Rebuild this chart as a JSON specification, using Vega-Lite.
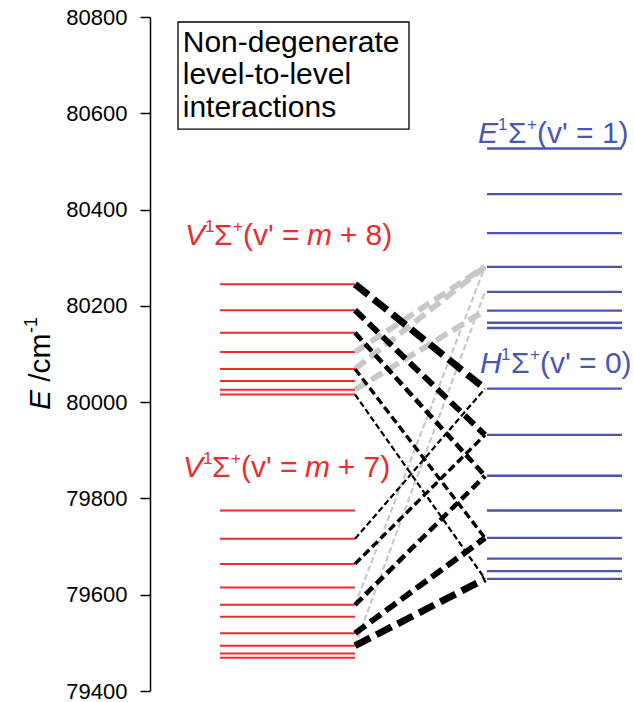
{
  "$schema": "https://vega.github.io/schema/vega-lite/v6.json",
  "width": 484,
  "height": 674,
  "autosize": "none",
  "padding": {"left": 150, "top": 17, "right": 0, "bottom": 11},
  "background": "white",
  "config": {"view": {"stroke": null}, "font": "Liberation Sans"},
  "data": {"values": [{}]},
  "datasets": {
    "levels": [
      {"state": "V", "v": "m+8", "E": 80245}, {"state": "V", "v": "m+8", "E": 80191},
      {"state": "V", "v": "m+8", "E": 80144}, {"state": "V", "v": "m+8", "E": 80104},
      {"state": "V", "v": "m+8", "E": 80069}, {"state": "V", "v": "m+8", "E": 80044},
      {"state": "V", "v": "m+8", "E": 80026}, {"state": "V", "v": "m+8", "E": 80016},
      {"state": "V", "v": "m+7", "E": 79775}, {"state": "V", "v": "m+7", "E": 79716},
      {"state": "V", "v": "m+7", "E": 79664}, {"state": "V", "v": "m+7", "E": 79615},
      {"state": "V", "v": "m+7", "E": 79579}, {"state": "V", "v": "m+7", "E": 79554},
      {"state": "V", "v": "m+7", "E": 79520}, {"state": "V", "v": "m+7", "E": 79494},
      {"state": "V", "v": "m+7", "E": 79478}, {"state": "V", "v": "m+7", "E": 79469},
      {"state": "E", "v": "1", "E": 80527}, {"state": "E", "v": "1", "E": 80432},
      {"state": "E", "v": "1", "E": 80351}, {"state": "E", "v": "1", "E": 80281},
      {"state": "E", "v": "1", "E": 80229}, {"state": "E", "v": "1", "E": 80190},
      {"state": "E", "v": "1", "E": 80165}, {"state": "E", "v": "1", "E": 80154},
      {"state": "H", "v": "0", "E": 80028}, {"state": "H", "v": "0", "E": 79932},
      {"state": "H", "v": "0", "E": 79847}, {"state": "H", "v": "0", "E": 79775},
      {"state": "H", "v": "0", "E": 79718}, {"state": "H", "v": "0", "E": 79675},
      {"state": "H", "v": "0", "E": 79649}, {"state": "H", "v": "0", "E": 79633}
    ],
    "links": [
      {"target": "E", "from": 80104, "to": 80281, "coupling": 4},
      {"target": "E", "from": 80069, "to": 80281, "coupling": 4},
      {"target": "E", "from": 80026, "to": 80190, "coupling": 4},
      {"target": "E", "from": 79579, "to": 80281, "coupling": 1},
      {"target": "E", "from": 79494, "to": 80229, "coupling": 1},
      {"target": "H", "from": 80245, "to": 80028, "coupling": 5},
      {"target": "H", "from": 80191, "to": 79932, "coupling": 4},
      {"target": "H", "from": 80144, "to": 79847, "coupling": 3},
      {"target": "H", "from": 80069, "to": 79718, "coupling": 2},
      {"target": "H", "from": 80016, "to": 79633, "coupling": 1},
      {"target": "H", "from": 79716, "to": 80028, "coupling": 1},
      {"target": "H", "from": 79664, "to": 79932, "coupling": 2},
      {"target": "H", "from": 79579, "to": 79847, "coupling": 3},
      {"target": "H", "from": 79520, "to": 79718, "coupling": 4},
      {"target": "H", "from": 79494, "to": 79633, "coupling": 5}
    ]
  },
  "layer": [
    {
      "data": {"name": "levels"},
      "transform": [{"filter": "datum.state === 'V'"}],
      "mark": {"type": "rule", "color": "#ef2b2d", "strokeWidth": 2},
      "encoding": {
        "x": {"datum": 14.46, "scale": {"domain": [0, 100]}, "axis": null},
        "x2": {"datum": 42.36},
        "y": {
          "field": "E", "type": "quantitative",
          "scale": {"domain": [79400, 80800], "nice": false, "zero": false},
          "axis": {
            "values": [79400, 79600, 79800, 80000, 80200, 80400, 80600, 80800],
            "format": "d", "title": null, "grid": false,
            "labelFont": "Liberation Sans", "labelFontSize": 22, "labelColor": "#000",
            "labelPadding": 13, "labelFlush": false, "labelOverlap": false,
            "tickColor": "#000", "tickSize": 10, "tickWidth": 1.5,
            "domainColor": "#000", "domainWidth": 1.5
          }
        }
      }
    },
    {
      "data": {"name": "levels"},
      "transform": [{"filter": "datum.state !== 'V'"}],
      "mark": {"type": "rule", "color": "#4b55b3", "strokeWidth": 2.4},
      "encoding": {
        "x": {"datum": 69.63, "scale": {"domain": [0, 100]}, "axis": null},
        "x2": {"datum": 97.52},
        "y": {"field": "E", "type": "quantitative", "scale": {"domain": [79400, 80800], "nice": false, "zero": false}}
      }
    },
    {
      "data": {"name": "links"},
      "transform": [{"filter": "datum.target === 'E'"}],
      "mark": {"type": "rule", "color": "#c8c8c8", "strokeCap": "butt"},
      "encoding": {
        "x": {"datum": 42.36, "scale": {"domain": [0, 100]}, "axis": null},
        "x2": {"datum": 69.21},
        "y": {"field": "from", "type": "quantitative", "scale": {"domain": [79400, 80800], "nice": false, "zero": false}},
        "y2": {"field": "to"},
        "strokeWidth": {"field": "coupling", "type": "quantitative", "scale": {"domain": [1, 5], "range": [2.2, 7]}, "legend": null},
        "strokeDash": {"field": "coupling", "type": "ordinal", "scale": {"domain": [1, 2, 3, 4, 5], "range": [[6, 3], [8, 4], [10, 5], [13, 6], [17, 7]]}, "legend": null}
      }
    },
    {
      "data": {"name": "links"},
      "transform": [{"filter": "datum.target === 'H'"}],
      "mark": {"type": "rule", "color": "#000000", "strokeCap": "butt"},
      "encoding": {
        "x": {"datum": 42.36, "scale": {"domain": [0, 100]}, "axis": null},
        "x2": {"datum": 69.21},
        "y": {"field": "from", "type": "quantitative", "scale": {"domain": [79400, 80800], "nice": false, "zero": false}},
        "y2": {"field": "to"},
        "strokeWidth": {"field": "coupling", "type": "quantitative", "scale": {"domain": [1, 5], "range": [2.2, 7]}, "legend": null},
        "strokeDash": {"field": "coupling", "type": "ordinal", "scale": {"domain": [1, 2, 3, 4, 5], "range": [[5, 3], [8, 4], [10, 5], [13, 6], [17, 7]]}, "legend": null}
      }
    },
    {
      "mark": {"type": "rect", "fill": "white", "stroke": "#000", "strokeWidth": 1.3},
      "encoding": {
        "x": {"datum": 5.79, "scale": {"domain": [0, 100]}, "axis": null},
        "x2": {"datum": 53.51},
        "y": {"datum": 80789.6, "scale": {"domain": [79400, 80800], "nice": false, "zero": false}},
        "y2": {"datum": 80567.3}
      }
    },
    {
      "mark": {"type": "text", "align": "left", "baseline": "alphabetic", "font": "Liberation Sans", "fontSize": 30, "lineHeight": 32.5, "color": "#000"},
      "encoding": {
        "x": {"datum": 6.76, "scale": {"domain": [0, 100]}, "axis": null},
        "y": {"datum": 80727.3, "scale": {"domain": [79400, 80800], "nice": false, "zero": false}},
        "text": {"value": ["Non-degenerate", "level-to-level", "interactions"]}
      }
    },
    {
      "mark": {"type": "text", "align": "left", "baseline": "alphabetic", "font": "Liberation Sans", "fontSize": 30, "fontStyle": "italic", "color": "#000"},
      "encoding": {
        "x": {"datum": -20.66, "scale": {"domain": [0, 100]}, "axis": null},
        "y": {"datum": 79983.6, "scale": {"domain": [79400, 80800], "nice": false, "zero": false}},
        "angle": {"value": 270},
        "text": {"value": "E"}
      }
    },
    {
      "mark": {"type": "text", "align": "left", "baseline": "alphabetic", "font": "Liberation Sans", "fontSize": 30, "color": "#000"},
      "encoding": {
        "x": {"datum": -20.66, "scale": {"domain": [0, 100]}, "axis": null},
        "y": {"datum": 80042.4, "scale": {"domain": [79400, 80800], "nice": false, "zero": false}},
        "angle": {"value": 270},
        "text": {"value": "/cm"}
      }
    },
    {
      "mark": {"type": "text", "align": "left", "baseline": "alphabetic", "font": "Liberation Sans", "fontSize": 18, "color": "#000"},
      "encoding": {
        "x": {"datum": -23.35, "scale": {"domain": [0, 100]}, "axis": null},
        "y": {"datum": 80143.6, "scale": {"domain": [79400, 80800], "nice": false, "zero": false}},
        "angle": {"value": 270},
        "text": {"value": "-1"}
      }
    },

    {"mark": {"type": "text", "align": "left", "baseline": "alphabetic", "fontSize": 30, "fontStyle": "italic", "color": "#ef2b2d"},
     "encoding": {"x": {"datum": 7.23, "scale": {"domain": [0, 100]}, "axis": null}, "y": {"datum": 80326.4, "scale": {"domain": [79400, 80800], "nice": false, "zero": false}}, "text": {"value": "V"}}},
    {"mark": {"type": "text", "align": "left", "baseline": "alphabetic", "fontSize": 17, "color": "#ef2b2d"},
     "encoding": {"x": {"datum": 11.36, "scale": {"domain": [0, 100]}, "axis": null}, "y": {"datum": 80353.4, "scale": {"domain": [79400, 80800], "nice": false, "zero": false}}, "text": {"value": "1"}}},
    {"mark": {"type": "text", "align": "left", "baseline": "alphabetic", "fontSize": 30, "color": "#ef2b2d"},
     "encoding": {"x": {"datum": 13.22, "scale": {"domain": [0, 100]}, "axis": null}, "y": {"datum": 80326.4, "scale": {"domain": [79400, 80800], "nice": false, "zero": false}}, "text": {"value": "Σ"}}},
    {"mark": {"type": "text", "align": "left", "baseline": "alphabetic", "fontSize": 17, "color": "#ef2b2d"},
     "encoding": {"x": {"datum": 17.15, "scale": {"domain": [0, 100]}, "axis": null}, "y": {"datum": 80353.4, "scale": {"domain": [79400, 80800], "nice": false, "zero": false}}, "text": {"value": "+"}}},
    {"mark": {"type": "text", "align": "left", "baseline": "alphabetic", "fontSize": 30, "color": "#ef2b2d"},
     "encoding": {"x": {"datum": 19.21, "scale": {"domain": [0, 100]}, "axis": null}, "y": {"datum": 80326.4, "scale": {"domain": [79400, 80800], "nice": false, "zero": false}}, "text": {"value": "(v' ="}}},
    {"mark": {"type": "text", "align": "left", "baseline": "alphabetic", "fontSize": 30, "fontStyle": "italic", "color": "#ef2b2d"},
     "encoding": {"x": {"datum": 32.44, "scale": {"domain": [0, 100]}, "axis": null}, "y": {"datum": 80326.4, "scale": {"domain": [79400, 80800], "nice": false, "zero": false}}, "text": {"value": "m"}}},
    {"mark": {"type": "text", "align": "left", "baseline": "alphabetic", "fontSize": 30, "color": "#ef2b2d"},
     "encoding": {"x": {"datum": 39.2, "scale": {"domain": [0, 100]}, "axis": null}, "y": {"datum": 80326.4, "scale": {"domain": [79400, 80800], "nice": false, "zero": false}}, "text": {"value": "+ 8)"}}},

    {"mark": {"type": "text", "align": "left", "baseline": "alphabetic", "fontSize": 30, "fontStyle": "italic", "color": "#ef2b2d"},
     "encoding": {"x": {"datum": 6.82, "scale": {"domain": [0, 100]}, "axis": null}, "y": {"datum": 79844.5, "scale": {"domain": [79400, 80800], "nice": false, "zero": false}}, "text": {"value": "V"}}},
    {"mark": {"type": "text", "align": "left", "baseline": "alphabetic", "fontSize": 17, "color": "#ef2b2d"},
     "encoding": {"x": {"datum": 10.95, "scale": {"domain": [0, 100]}, "axis": null}, "y": {"datum": 79871.5, "scale": {"domain": [79400, 80800], "nice": false, "zero": false}}, "text": {"value": "1"}}},
    {"mark": {"type": "text", "align": "left", "baseline": "alphabetic", "fontSize": 30, "color": "#ef2b2d"},
     "encoding": {"x": {"datum": 12.81, "scale": {"domain": [0, 100]}, "axis": null}, "y": {"datum": 79844.5, "scale": {"domain": [79400, 80800], "nice": false, "zero": false}}, "text": {"value": "Σ"}}},
    {"mark": {"type": "text", "align": "left", "baseline": "alphabetic", "fontSize": 17, "color": "#ef2b2d"},
     "encoding": {"x": {"datum": 16.74, "scale": {"domain": [0, 100]}, "axis": null}, "y": {"datum": 79871.5, "scale": {"domain": [79400, 80800], "nice": false, "zero": false}}, "text": {"value": "+"}}},
    {"mark": {"type": "text", "align": "left", "baseline": "alphabetic", "fontSize": 30, "color": "#ef2b2d"},
     "encoding": {"x": {"datum": 18.8, "scale": {"domain": [0, 100]}, "axis": null}, "y": {"datum": 79844.5, "scale": {"domain": [79400, 80800], "nice": false, "zero": false}}, "text": {"value": "(v' ="}}},
    {"mark": {"type": "text", "align": "left", "baseline": "alphabetic", "fontSize": 30, "fontStyle": "italic", "color": "#ef2b2d"},
     "encoding": {"x": {"datum": 32.03, "scale": {"domain": [0, 100]}, "axis": null}, "y": {"datum": 79844.5, "scale": {"domain": [79400, 80800], "nice": false, "zero": false}}, "text": {"value": "m"}}},
    {"mark": {"type": "text", "align": "left", "baseline": "alphabetic", "fontSize": 30, "color": "#ef2b2d"},
     "encoding": {"x": {"datum": 38.79, "scale": {"domain": [0, 100]}, "axis": null}, "y": {"datum": 79844.5, "scale": {"domain": [79400, 80800], "nice": false, "zero": false}}, "text": {"value": "+ 7)"}}},

    {"mark": {"type": "text", "align": "left", "baseline": "alphabetic", "fontSize": 30, "fontStyle": "italic", "color": "#4b55b3"},
     "encoding": {"x": {"datum": 67.77, "scale": {"domain": [0, 100]}, "axis": null}, "y": {"datum": 80538.3, "scale": {"domain": [79400, 80800], "nice": false, "zero": false}}, "text": {"value": "E"}}},
    {"mark": {"type": "text", "align": "left", "baseline": "alphabetic", "fontSize": 17, "color": "#4b55b3"},
     "encoding": {"x": {"datum": 71.9, "scale": {"domain": [0, 100]}, "axis": null}, "y": {"datum": 80565.3, "scale": {"domain": [79400, 80800], "nice": false, "zero": false}}, "text": {"value": "1"}}},
    {"mark": {"type": "text", "align": "left", "baseline": "alphabetic", "fontSize": 30, "color": "#4b55b3"},
     "encoding": {"x": {"datum": 73.97, "scale": {"domain": [0, 100]}, "axis": null}, "y": {"datum": 80538.3, "scale": {"domain": [79400, 80800], "nice": false, "zero": false}}, "text": {"value": "Σ"}}},
    {"mark": {"type": "text", "align": "left", "baseline": "alphabetic", "fontSize": 17, "color": "#4b55b3"},
     "encoding": {"x": {"datum": 77.89, "scale": {"domain": [0, 100]}, "axis": null}, "y": {"datum": 80565.3, "scale": {"domain": [79400, 80800], "nice": false, "zero": false}}, "text": {"value": "+"}}},
    {"mark": {"type": "text", "align": "left", "baseline": "alphabetic", "fontSize": 30, "color": "#4b55b3"},
     "encoding": {"x": {"datum": 79.96, "scale": {"domain": [0, 100]}, "axis": null}, "y": {"datum": 80538.3, "scale": {"domain": [79400, 80800], "nice": false, "zero": false}}, "text": {"value": "(v' = 1)"}}},

    {"mark": {"type": "text", "align": "left", "baseline": "alphabetic", "fontSize": 30, "fontStyle": "italic", "color": "#4b55b3"},
     "encoding": {"x": {"datum": 68.18, "scale": {"domain": [0, 100]}, "axis": null}, "y": {"datum": 80060.5, "scale": {"domain": [79400, 80800], "nice": false, "zero": false}}, "text": {"value": "H"}}},
    {"mark": {"type": "text", "align": "left", "baseline": "alphabetic", "fontSize": 17, "color": "#4b55b3"},
     "encoding": {"x": {"datum": 72.52, "scale": {"domain": [0, 100]}, "axis": null}, "y": {"datum": 80087.5, "scale": {"domain": [79400, 80800], "nice": false, "zero": false}}, "text": {"value": "1"}}},
    {"mark": {"type": "text", "align": "left", "baseline": "alphabetic", "fontSize": 30, "color": "#4b55b3"},
     "encoding": {"x": {"datum": 74.59, "scale": {"domain": [0, 100]}, "axis": null}, "y": {"datum": 80060.5, "scale": {"domain": [79400, 80800], "nice": false, "zero": false}}, "text": {"value": "Σ"}}},
    {"mark": {"type": "text", "align": "left", "baseline": "alphabetic", "fontSize": 17, "color": "#4b55b3"},
     "encoding": {"x": {"datum": 78.51, "scale": {"domain": [0, 100]}, "axis": null}, "y": {"datum": 80087.5, "scale": {"domain": [79400, 80800], "nice": false, "zero": false}}, "text": {"value": "+"}}},
    {"mark": {"type": "text", "align": "left", "baseline": "alphabetic", "fontSize": 30, "color": "#4b55b3"},
     "encoding": {"x": {"datum": 80.58, "scale": {"domain": [0, 100]}, "axis": null}, "y": {"datum": 80060.5, "scale": {"domain": [79400, 80800], "nice": false, "zero": false}}, "text": {"value": "(v' = 0)"}}}
  ]
}
